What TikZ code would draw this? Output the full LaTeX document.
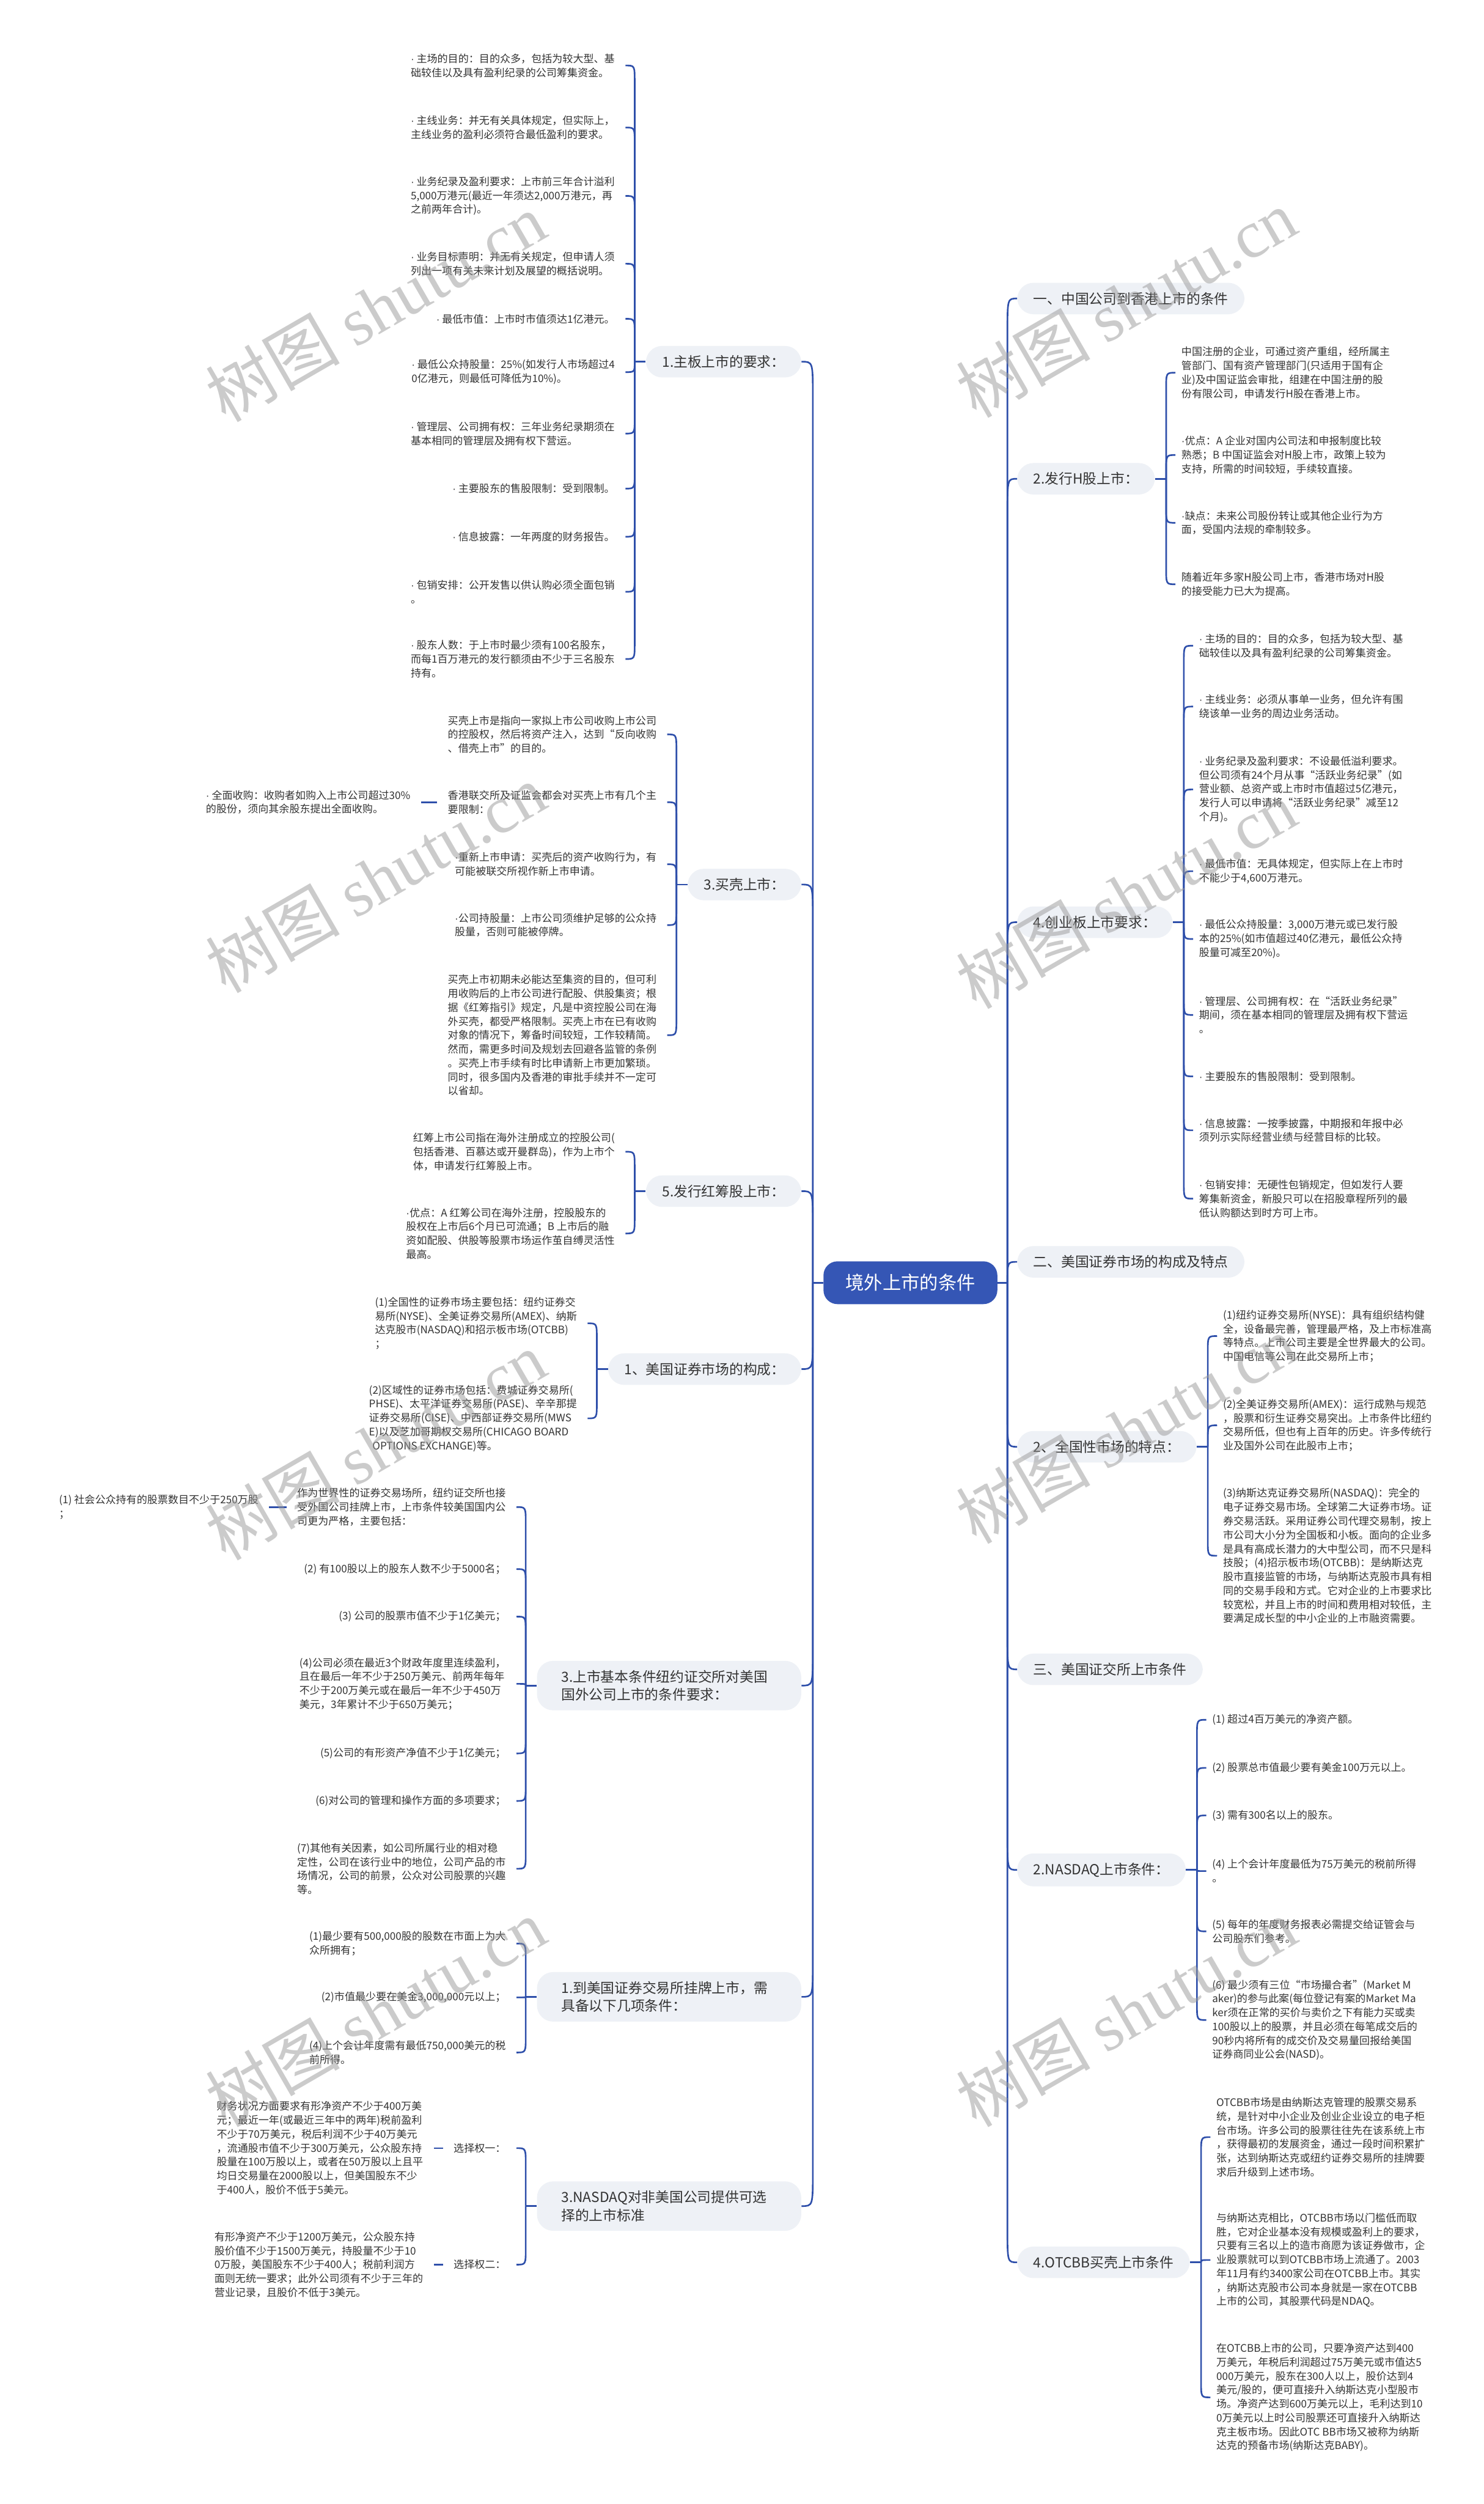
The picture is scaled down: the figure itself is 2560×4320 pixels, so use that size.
\documentclass[tikz,border=0pt]{standalone}
\usepackage{fontspec}
\setmainfont{Noto Sans CJK SC}
\newfontfamily\wmfont{Liberation Serif}
\newfontfamily\dotfont{Liberation Sans}
\newcommand\mdot{{\dotfont ·}}
\usepackage{tikz}
\usetikzlibrary{positioning,calc}

\definecolor{linkblue}{HTML}{2E4FAA}
\definecolor{rootblue}{HTML}{3556B5}
\definecolor{topicfill}{HTML}{EEF1F6}
\definecolor{txtgray}{HTML}{333333}

\tikzset{
  branchline/.style={draw=linkblue, line width=1.4pt},
  curvelink/.style={to path={let \p1=(\tikztostart), \p2=(\tikztotarget) in
    -- (\x1,{\y2+max(-#1,min(#1,\y1-(\y2)))}) .. controls (\x1,\y2) .. (\tikztotarget)}},
  curvelink/.default=14pt,
  rootbox/.style={fill=rootblue, text=white, rounded corners=12pt,
    font=\fontsize{16}{19}\selectfont, inner xsep=19pt, inner ysep=11pt},
  topic/.style={fill=topicfill, text=txtgray, rounded corners=14pt,
    font=\fontsize{12}{15.5}\selectfont, inner xsep=14pt, inner ysep=8pt, align=left},
  widetopic/.style={topic, inner xsep=21pt, text width=186pt},
  lleaf/.style={anchor=east, text=txtgray, font=\fontsize{9}{12}\selectfont,
    inner xsep=9pt, inner ysep=2pt, align=left},
  rleaf/.style={lleaf, anchor=west, inner xsep=5pt},
  wmark/.style={rotate=30, text=gray!80, text opacity=0.5, font=\fontsize{58}{60}\selectfont},
}

\begin{document}
\begin{tikzpicture}[x=0.5pt,y=-0.5pt]
\fill[white] (0,0) rectangle (2560,4320);
\useasboundingbox (0,0) rectangle (2560,4320);

\node[rootbox] (root) at (1571,2213) {境外上市的条件};

\node[topic, anchor=east] (L1) at (1383,624) {1.主板上市的要求：};
\node[topic, anchor=east] (L2) at (1383,1526) {3.买壳上市：};
\node[topic, anchor=east] (L3) at (1383,2055) {5.发行红筹股上市：};
\node[topic, anchor=east] (L4) at (1383,2362) {1、美国证券市场的构成：};
\node[widetopic, anchor=east] (L5) at (1383,2908) {3.上市基本条件纽约证交所对美国\\国外公司上市的条件要求：};
\node[widetopic, anchor=east] (L6) at (1383,3445) {1.到美国证券交易所挂牌上市，需\\具备以下几项条件：};
\node[widetopic, anchor=east] (L7) at (1383,3806) {3.NASDAQ对非美国公司提供可选\\择的上市标准};

\node[topic, anchor=west] (R1) at (1755,515) {一、中国公司到香港上市的条件};
\node[topic, anchor=west] (R2) at (1755,826) {2.发行H股上市：};
\node[topic, anchor=west] (R3) at (1755,1591) {4.创业板上市要求：};
\node[topic, anchor=west] (R4) at (1755,2177) {二、美国证券市场的构成及特点};
\node[topic, anchor=west] (R5) at (1755,2496) {2、全国性市场的特点：};
\node[topic, anchor=west] (R6) at (1755,2880) {三、美国证交所上市条件};
\node[topic, anchor=west] (R7) at (1755,3226) {2.NASDAQ上市条件：};
\node[topic, anchor=west] (R8) at (1755,3903) {4.OTCBB买壳上市条件};

\foreach \t in {L1,L2,L3,L4,L5,L6,L7} {
  \coordinate (s\t) at ($(\t.west)+(-19,0)$);
  \coordinate (t\t) at ($(s\t)+(-16,0)$);
}
\foreach \t in {R2,R3,R5,R7,R8} {
  \coordinate (s\t) at ($(\t.east)+(19,0)$);
  \coordinate (t\t) at ($(s\t)+(16,0)$);
}

\node[lleaf] (a1) at (tL1 |- 0,113) {\mdot{} 主场的目的：目的众多，包括为较大型、基\\础较佳以及具有盈利纪录的公司筹集资金。};
\node[lleaf] (a2) at (tL1 |- 0,220) {\mdot{} 主线业务：并无有关具体规定，但实际上，\\主线业务的盈利必须符合最低盈利的要求。};
\node[lleaf] (a3) at (tL1 |- 0,338) {\mdot{} 业务纪录及盈利要求：上市前三年合计溢利\\5,000万港元(最近一年须达2,000万港元，再\\之前两年合计)。};
\node[lleaf] (a4) at (tL1 |- 0,455) {\mdot{} 业务目标声明：并无有关规定，但申请人须\\列出一项有关未来计划及展望的概括说明。};
\node[lleaf] (a5) at (tL1 |- 0,550) {\mdot{} 最低市值：上市时市值须达1亿港元。};
\node[lleaf] (a6) at (tL1 |- 0,642) {\mdot{} 最低公众持股量：25\%(如发行人市场超过4\\0亿港元，则最低可降低为10\%)。};
\node[lleaf] (a7) at (tL1 |- 0,748) {\mdot{} 管理层、公司拥有权：三年业务纪录期须在\\基本相同的管理层及拥有权下营运。};
\node[lleaf] (a8) at (tL1 |- 0,843) {\mdot{} 主要股东的售股限制：受到限制。};
\node[lleaf] (a9) at (tL1 |- 0,926) {\mdot{} 信息披露：一年两度的财务报告。};
\node[lleaf] (a10) at (tL1 |- 0,1021) {\mdot{} 包销安排：公开发售以供认购必须全面包销\\。};
\node[lleaf] (a11) at (tL1 |- 0,1137) {\mdot{} 股东人数：于上市时最少须有100名股东，\\而每1百万港元的发行额须由不少于三名股东\\持有。};

\node[lleaf] (b1) at (tL2 |- 0,1267) {买壳上市是指向一家拟上市公司收购上市公司\\的控股权，然后将资产注入，达到“反向收购\\、借壳上市”的目的。};
\node[lleaf] (b2) at (tL2 |- 0,1384) {香港联交所及证监会都会对买壳上市有几个主\\要限制：};
\node[lleaf, left=14pt of b2] (b2a) {\mdot{} 全面收购：收购者如购入上市公司超过30\%\\的股份，须向其余股东提出全面收购。};
\node[lleaf] (b3) at (tL2 |- 0,1491) {\mdot{}重新上市申请：买壳后的资产收购行为，有\\可能被联交所视作新上市申请。};
\node[lleaf] (b4) at (tL2 |- 0,1596) {\mdot{}公司持股量：上市公司须维护足够的公众持\\股量，否则可能被停牌。};
\node[lleaf] (b5) at (tL2 |- 0,1786) {买壳上市初期未必能达至集资的目的，但可利\\用收购后的上市公司进行配股、供股集资；根\\据《红筹指引》规定，凡是中资控股公司在海\\外买壳，都受严格限制。买壳上市在已有收购\\对象的情况下，筹备时间较短，工作较精简。\\然而，需更多时间及规划去回避各监管的条例\\。买壳上市手续有时比申请新上市更加繁琐。\\同时，很多国内及香港的审批手续并不一定可\\以省却。};

\node[lleaf] (c1) at (tL3 |- 0,1987) {红筹上市公司指在海外注册成立的控股公司(\\包括香港、百慕达或开曼群岛)，作为上市个\\体，申请发行红筹股上市。};
\node[lleaf] (c2) at (tL3 |- 0,2128) {\mdot{}优点：A 红筹公司在海外注册，控股股东的\\股权在上市后6个月已可流通；B 上市后的融\\资如配股、供股等股票市场运作茧自缚灵活性\\最高。};

\node[lleaf] (d1) at (tL4 |- 0,2283) {(1)全国性的证券市场主要包括：纽约证券交\\易所(NYSE)、全美证券交易所(AMEX)、纳斯\\达克股市(NASDAQ)和招示板市场(OTCBB)\\；};
\node[lleaf] (d2) at (tL4 |- 0,2447) {(2)区域性的证券市场包括：费城证券交易所(\\PHSE)、太平洋证券交易所(PASE)、辛辛那提\\证券交易所(CISE)、中西部证券交易所(MWS\\E)以及芝加哥期权交易所(CHICAGO BOARD\\\hspace*{3pt}OPTIONS EXCHANGE)等。};

\node[lleaf] (e1) at (tL5 |- 0,2600) {作为世界性的证券交易场所，纽约证交所也接\\受外国公司挂牌上市，上市条件较美国国内公\\司更为严格，主要包括：};
\node[lleaf, left=15pt of e1] (e1a) {(1) 社会公众持有的股票数目不少于250万股\\；};
\node[lleaf] (e2) at (tL5 |- 0,2707) {(2) 有100股以上的股东人数不少于5000名；};
\node[lleaf] (e3) at (tL5 |- 0,2789) {(3) 公司的股票市值不少于1亿美元；};
\node[lleaf] (e4) at (tL5 |- 0,2905) {(4)公司必须在最近3个财政年度里连续盈利，\\且在最后一年不少于250万美元、前两年每年\\不少于200万美元或在最后一年不少于450万\\美元，3年累计不少于650万美元；};
\node[lleaf] (e5) at (tL5 |- 0,3025) {(5)公司的有形资产净值不少于1亿美元；};
\node[lleaf] (e6) at (tL5 |- 0,3107) {(6)对公司的管理和操作方面的多项要求；};
\node[lleaf] (e7) at (tL5 |- 0,3224) {(7)其他有关因素，如公司所属行业的相对稳\\定性，公司在该行业中的地位，公司产品的市\\场情况，公司的前景，公众对公司股票的兴趣\\等。};

\node[lleaf] (f1) at (tL6 |- 0,3353) {(1)最少要有500,000股的股数在市面上为大\\众所拥有；};
\node[lleaf] (f2) at (tL6 |- 0,3446) {(2)市值最少要在美金3,000,000元以上；};
\node[lleaf] (f3) at (tL6 |- 0,3541) {(4)上个会计年度需有最低750,000美元的税\\前所得。};

\node[lleaf] (g1) at (tL7 |- 0,3706) {选择权一：};
\node[lleaf, left=8pt of g1] (g1a) {财务状况方面要求有形净资产不少于400万美\\元；最近一年(或最近三年中的两年)税前盈利\\不少于70万美元，税后利润不少于40万美元\\，流通股市值不少于300万美元，公众股东持\\股量在100万股以上，或者在50万股以上且平\\均日交易量在2000股以上，但美国股东不少\\于400人，股价不低于5美元。};
\node[lleaf] (g2) at (tL7 |- 0,3907) {选择权二：};
\node[lleaf, left=8pt of g2] (g2a) {有形净资产不少于1200万美元，公众股东持\\股价值不少于1500万美元，持股量不少于10\\0万股，美国股东不少于400人；税前利润方\\面则无统一要求；此外公司须有不少于三年的\\营业记录，且股价不低于3美元。};

\node[rleaf] (h1) at (tR2 |- 0,643) {中国注册的企业，可通过资产重组，经所属主\\管部门、国有资产管理部门(只适用于国有企\\业)及中国证监会审批，组建在中国注册的股\\份有限公司，申请发行H股在香港上市。};
\node[rleaf] (h2) at (tR2 |- 0,785) {\mdot{}优点：A 企业对国内公司法和申报制度比较\\熟悉；B 中国证监会对H股上市，政策上较为\\支持，所需的时间较短，手续较直接。};
\node[rleaf] (h3) at (tR2 |- 0,902) {\mdot{}缺点：未来公司股份转让或其他企业行为方\\面，受国内法规的牵制较多。};
\node[rleaf] (h4) at (tR2 |- 0,1008) {随着近年多家H股公司上市，香港市场对H股\\的接受能力已大为提高。};

\node[rleaf] (i1) at (tR3 |- 0,1114) {\mdot{} 主场的目的：目的众多，包括为较大型、基\\础较佳以及具有盈利纪录的公司筹集资金。};
\node[rleaf] (i2) at (tR3 |- 0,1219) {\mdot{} 主线业务：必须从事单一业务，但允许有围\\绕该单一业务的周边业务活动。};
\node[rleaf] (i3) at (tR3 |- 0,1362) {\mdot{} 业务纪录及盈利要求：不设最低溢利要求。\\但公司须有24个月从事“活跃业务纪录”(如\\营业额、总资产或上市时市值超过5亿港元，\\发行人可以申请将“活跃业务纪录”减至12\\个月)。};
\node[rleaf] (i4) at (tR3 |- 0,1503) {\mdot{} 最低市值：无具体规定，但实际上在上市时\\不能少于4,600万港元。};
\node[rleaf] (i5) at (tR3 |- 0,1620) {\mdot{} 最低公众持股量：3,000万港元或已发行股\\本的25\%(如市值超过40亿港元，最低公众持\\股量可减至20\%)。};
\node[rleaf] (i6) at (tR3 |- 0,1751) {\mdot{} 管理层、公司拥有权：在“活跃业务纪录”\\期间，须在基本相同的管理层及拥有权下营运\\。};
\node[rleaf] (i7) at (tR3 |- 0,1857) {\mdot{} 主要股东的售股限制：受到限制。};
\node[rleaf] (i8) at (tR3 |- 0,1950) {\mdot{} 信息披露：一按季披露，中期报和年报中必\\须列示实际经营业绩与经营目标的比较。};
\node[rleaf] (i9) at (tR3 |- 0,2068) {\mdot{} 包销安排：无硬性包销规定，但如发行人要\\筹集新资金，新股只可以在招股章程所列的最\\低认购额达到时方可上市。};

\node[rleaf] (j1) at (tR5 |- 0,2305) {(1)纽约证券交易所(NYSE)：具有组织结构健\\全，设备最完善，管理最严格，及上市标准高\\等特点。上市公司主要是全世界最大的公司。\\中国电信等公司在此交易所上市；};
\node[rleaf] (j2) at (tR5 |- 0,2459) {(2)全美证券交易所(AMEX)：运行成熟与规范\\，股票和衍生证券交易突出。上市条件比纽约\\交易所低，但也有上百年的历史。许多传统行\\业及国外公司在此股市上市；};
\node[rleaf] (j3) at (tR5 |- 0,2684) {(3)纳斯达克证券交易所(NASDAQ)：完全的\\电子证券交易市场。全球第二大证券市场。证\\券交易活跃。采用证券公司代理交易制，按上\\市公司大小分为全国板和小板。面向的企业多\\是具有高成长潜力的大中型公司，而不只是科\\技股；(4)招示板市场(OTCBB)：是纳斯达克\\股市直接监管的市场，与纳斯达克股市具有相\\同的交易手段和方式。它对企业的上市要求比\\较宽松，并且上市的时间和费用相对较低，主\\要满足成长型的中小企业的上市融资需要。};

\node[rleaf] (k1) at (tR7 |- 0,2967) {(1) 超过4百万美元的净资产额。};
\node[rleaf] (k2) at (tR7 |- 0,3050) {(2) 股票总市值最少要有美金100万元以上。};
\node[rleaf] (k3) at (tR7 |- 0,3132) {(3) 需有300名以上的股东。};
\node[rleaf] (k4) at (tR7 |- 0,3228) {(4) 上个会计年度最低为75万美元的税前所得\\。};
\node[rleaf] (k5) at (tR7 |- 0,3332) {(5) 每年的年度财务报表必需提交给证管会与\\公司股东们参考。};
\node[rleaf] (k6) at (tR7 |- 0,3485) {(6) 最少须有三位“市场撮合者”(Market M\\aker)的参与此案(每位登记有案的Market Ma\\ker须在正常的买价与卖价之下有能力买或卖\\100股以上的股票，并且必须在每笔成交后的\\90秒内将所有的成交价及交易量回报给美国\\证券商同业公会(NASD)。};

\node[rleaf] (m1) at (tR8 |- 0,3687) {OTCBB市场是由纳斯达克管理的股票交易系\\统，是针对中小企业及创业企业设立的电子柜\\台市场。许多公司的股票往往先在该系统上市\\，获得最初的发展资金，通过一段时间积累扩\\张，达到纳斯达克或纽约证券交易所的挂牌要\\求后升级到上述市场。};
\node[rleaf] (m2) at (tR8 |- 0,3899) {与纳斯达克相比，OTCBB市场以门槛低而取\\胜，它对企业基本没有规模或盈利上的要求，\\只要有三名以上的造市商愿为该证券做市，企\\业股票就可以到OTCBB市场上流通了。2003\\年11月有约3400家公司在OTCBB上市。其实\\，纳斯达克股市公司本身就是一家在OTCBB\\上市的公司，其股票代码是NDAQ。};
\node[rleaf] (m3) at (tR8 |- 0,4136) {在OTCBB上市的公司，只要净资产达到400\\万美元，年税后利润超过75万美元或市值达5\\000万美元，股东在300人以上，股价达到4\\美元/股的，便可直接升入纳斯达克小型股市\\场。净资产达到600万美元以上，毛利达到10\\0万美元以上时公司股票还可直接升入纳斯达\\克主板市场。因此OTC BB市场又被称为纳斯\\达克的预备市场(纳斯达克BABY)。};

\coordinate (rootL) at ($(root.west)+(-18,0)$);
\coordinate (rootR) at ($(root.east)+(17,0)$);
\draw[branchline] (root.west) -- (rootL);
\draw[branchline] (root.east) -- (rootR);
\foreach \t in {L1,L2,L3,L4,L5,L6,L7}
  \draw[branchline] (rootL) to[curvelink=30pt] (\t.east);
\foreach \t in {R1,R2,R3,R4,R5,R6,R7,R8}
  \draw[branchline] (rootR) to[curvelink=30pt] (\t.west);

\foreach \t in {L1,L2,L3,L4,L5,L6,L7}
  \draw[branchline] (\t.west) -- (s\t);
\foreach \t in {R2,R3,R5,R7,R8}
  \draw[branchline] (\t.east) -- (s\t);

\foreach \c in {a1,a2,a3,a4,a5,a6,a7,a8,a9,a10,a11}
  \draw[branchline] (sL1) to[curvelink] (\c.east);
\foreach \c in {b1,b2,b3,b4,b5}
  \draw[branchline] (sL2) to[curvelink] (\c.east);
\foreach \c in {c1,c2}
  \draw[branchline] (sL3) to[curvelink] (\c.east);
\foreach \c in {d1,d2}
  \draw[branchline] (sL4) to[curvelink] (\c.east);
\foreach \c in {e1,e2,e3,e4,e5,e6,e7}
  \draw[branchline] (sL5) to[curvelink] (\c.east);
\foreach \c in {f1,f2,f3}
  \draw[branchline] (sL6) to[curvelink] (\c.east);
\foreach \c in {g1,g2}
  \draw[branchline] (sL7) to[curvelink] (\c.east);
\foreach \c in {h1,h2,h3,h4}
  \draw[branchline] (sR2) to[curvelink] (\c.west);
\foreach \c in {i1,i2,i3,i4,i5,i6,i7,i8,i9}
  \draw[branchline] (sR3) to[curvelink] (\c.west);
\foreach \c in {j1,j2,j3}
  \draw[branchline] (sR5) to[curvelink] (\c.west);
\foreach \c in {k1,k2,k3,k4,k5,k6}
  \draw[branchline] (sR7) to[curvelink] (\c.west);
\foreach \c in {m1,m2,m3}
  \draw[branchline] (sR8) to[curvelink] (\c.west);

\draw[branchline] (b2.west) -- (b2a.east);
\draw[branchline] (e1.west) -- (e1a.east);
\draw[branchline] (g1.west) -- (g1a.east);
\draw[branchline] (g2.west) -- (g2a.east);

\foreach \wx/\wy [count=\i] in {648/530,1943/523,648/1515,1943/1543,648/2494,1943/2466,648/3472,1943/3472}
  \node[wmark] (wm\i) at (\wx,\wy) {树图 {\wmfont shutu.cn}};
\end{tikzpicture}
\end{document}
